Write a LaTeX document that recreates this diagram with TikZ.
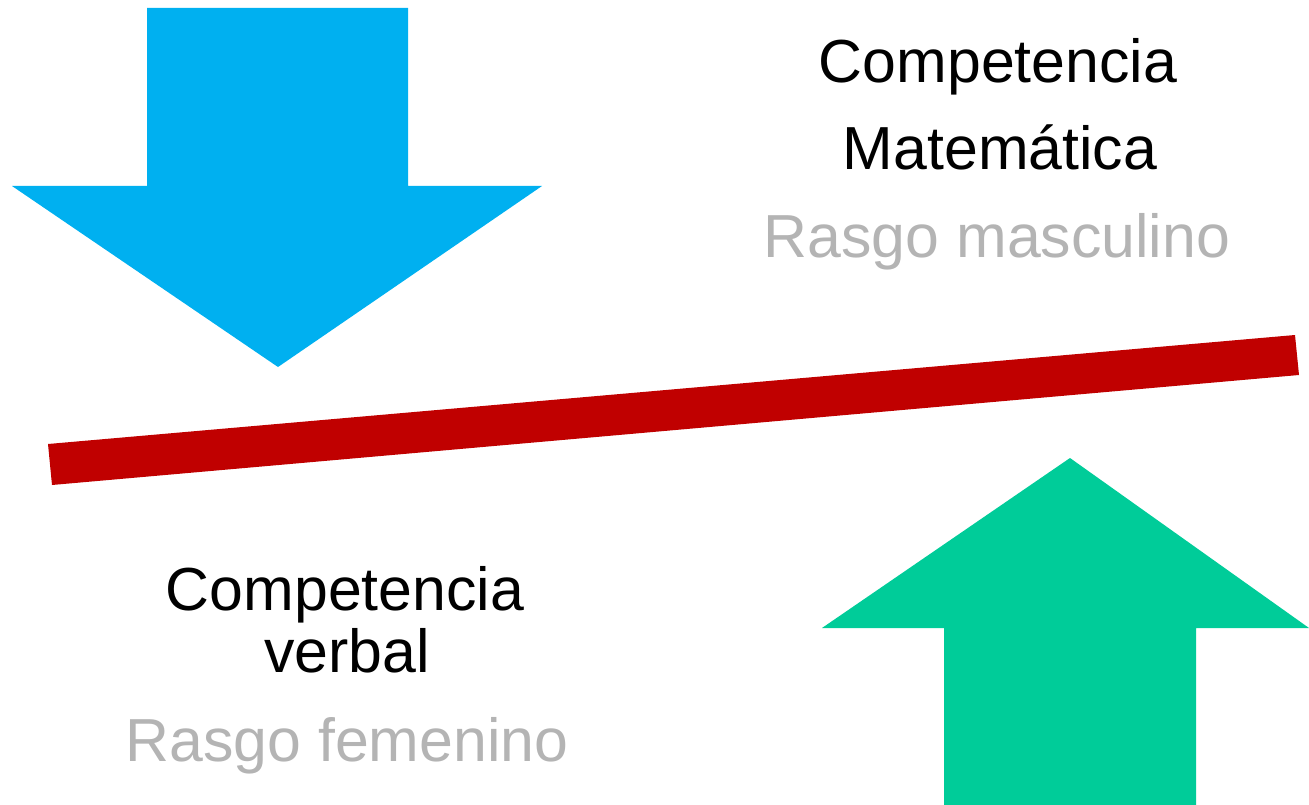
\documentclass[tikz,border=0pt]{standalone}
\usepackage{fontspec}
\setmainfont{Liberation Sans}
\definecolor{arrowblue}{RGB}{0,176,240}
\definecolor{arrowgreen}{RGB}{0,204,153}
\definecolor{barred}{RGB}{192,0,0}
\definecolor{traitgray}{RGB}{180,180,180}
\begin{document}
\begin{tikzpicture}[x=1pt,y=-1pt,
  label/.style={anchor=base,inner sep=0pt,font=\fontsize{60.8}{70}\selectfont},
  trait/.style={label,text=traitgray}]
\useasboundingbox (0,0) rectangle (1309,805);
% blue arrow (down)
\fill[arrowblue] (147,8) -- (408,8) -- (408,186) -- (542,186) -- (278,367) -- (12,186) -- (147,186) -- cycle;
% green arrow (up)
\fill[arrowgreen] (1070,458) -- (1309,628) -- (1196,628) -- (1196,805) -- (944,805) -- (944,628) -- (822,628) -- cycle;
% red bar
\fill[barred] (48,444) -- (1295,335) -- (1299,375) -- (52,485) -- cycle;
% texts
\node[label] (cm1) at (998,83) {Competencia};
\node[label] (cm2) at (1000,170) {Matemática};
\node[trait] (rm) at (997,258) {Rasgo masculino};
\node[label] (cv1) at (345,610) {Competencia};
\node[label] (cv2) at (347,672) {verbal};
\node[trait] (rf) at (347,761) {Rasgo femenino};
\end{tikzpicture}
\end{document}
